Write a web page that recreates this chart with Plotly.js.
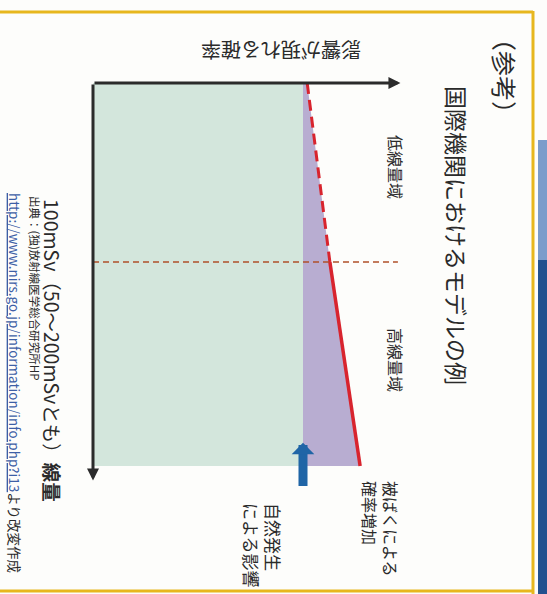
<!DOCTYPE html>
<html>
<head>
<meta charset="utf-8">
<script src="https://cdn.plot.ly/plotly-3.0.1.min.js"></script>
<style>html,body{margin:0;padding:0;background:#fdfdfb;}#chart{width:547px;height:594px;}</style>
</head>
<body>
<div id="chart"></div>
<script>
// Schematic data (dose in mSv, probability in arbitrary units)
const doseLevels = [0, 100, 214];          // dose axis points
const naturalRisk = [25, 25, 25];          // 自然発生による影響
const totalRisk = [25.5, 28.2, 31.8];      // 被ばくによる確率増加 (LNT model)
const thresholdDose = 100;                 // 100mSv boundary
const doseAxisEnd = 222;
const probAxisEnd = 36.6;
const thresholdLineEnd = 36.3;
const arrowDose = [226, 201];              // blue arrow tail/head

const labels = {
  ref: '（参考）',
  title: '国際機関におけるモデルの例',
  yTitle: '影響が現れる確率',
  low: '低線量域',
  high: '高線量域',
  increase: '被ばくによる<br>確率増加',
  natural: '自然発生<br>による影響',
  xTitle: '100mSv（50～200mSvとも）<b>線量</b>',
  source: '出典：(独)放射線医学総合研究所HP',
  url: 'http://www.nirs.go.jp/information/info.php?i13'
};

const W = 547, H = 594;
const px = x => x / W;
const py = y => 1 - y / H;
const FONT = '"Noto Sans CJK JP", "Noto Sans", sans-serif';
const TXT = '#2a2a2a';

const green = '#d3e6dc', purple = '#b8add1', red = '#d8242e';

const traces = [
  {x: doseLevels.map(() => 0), y: doseLevels, mode: 'lines', line: {width: 0}, hoverinfo: 'skip', showlegend: false},
  {x: naturalRisk, y: doseLevels, mode: 'lines', fill: 'tonextx', fillcolor: green, line: {width: 0}, hoverinfo: 'skip', showlegend: false},
  {x: totalRisk, y: doseLevels, mode: 'lines', fill: 'tonextx', fillcolor: purple, line: {width: 0}, hoverinfo: 'skip', showlegend: false},
  {x: totalRisk.slice(0, 2), y: doseLevels.slice(0, 2), mode: 'lines', line: {color: red, width: 3, dash: '11px,6px'}, hoverinfo: 'skip', showlegend: false},
  {x: totalRisk.slice(1), y: doseLevels.slice(1), mode: 'lines', line: {color: red, width: 3.5}, hoverinfo: 'skip', showlegend: false},
  {x: [0, thresholdLineEnd], y: [thresholdDose, thresholdDose], mode: 'lines', line: {color: '#b0502a', width: 1.5, dash: '6px,4px'}, hoverinfo: 'skip', showlegend: false}
];

function rot(text, x, y, size, extra) {
  return Object.assign({
    text: text, xref: 'paper', yref: 'paper', x: px(x), y: py(y),
    xanchor: 'center', yanchor: 'middle', showarrow: false, textangle: 90,
    font: {family: FONT, size: size, color: TXT}
  }, extra || {});
}

const annotations = [
  // axes arrows
  {x: probAxisEnd, y: 0, ax: 0, ay: 0, xref: 'x', yref: 'y', axref: 'x', ayref: 'y', text: '', showarrow: true,
   arrowhead: 2, arrowsize: 0.8, arrowwidth: 3, arrowcolor: '#2b2b2b'},
  {x: 0, y: doseAxisEnd, ax: 0, ay: 0, xref: 'x', yref: 'y', axref: 'x', ayref: 'y', text: '', showarrow: true,
   arrowhead: 2, arrowsize: 0.8, arrowwidth: 3, arrowcolor: '#2b2b2b'},
  // blue arrow
  {x: naturalRisk[2], y: arrowDose[1], ax: naturalRisk[2], ay: arrowDose[0], xref: 'x', yref: 'y', axref: 'x', ayref: 'y',
   text: '', showarrow: true, arrowhead: 1, arrowsize: 0.42, arrowwidth: 9, arrowcolor: '#1f65a6'},
  rot(labels.ref, 505, 76, 25),
  rot(labels.title, 457, 236, 23),
  rot(labels.yTitle, 281, 51, 20, {textangle: 180}),
  rot(labels.low, 396, 167, 16),
  rot(labels.high, 396, 360, 16),
  rot(labels.increase, 381, 529, 16, {align: 'left'}),
  rot(labels.natural, 263, 545, 17, {align: 'left'}),
  rot(labels.xTitle, 53, 350, 19.5),
  rot(labels.source, 35, 288, 11.5),
  rot('<span style="color:#3d5fa6;text-decoration:underline">' + labels.url + '</span>より改変作成', 15, 383, 13.5)
];

const shapes = [
  {type: 'line', xref: 'paper', yref: 'paper', x0: 0, x1: px(533), y0: py(12), y1: py(12), line: {color: '#e7b71e', width: 3}},
  {type: 'line', xref: 'paper', yref: 'paper', x0: px(533), x1: px(533), y0: py(11), y1: 0, line: {color: '#e7b71e', width: 3}},
  {type: 'line', xref: 'paper', yref: 'paper', x0: 0, x1: px(533), y0: py(591), y1: py(591), line: {color: '#e7b71e', width: 3}},
  {type: 'rect', xref: 'paper', yref: 'paper', x0: px(538), x1: 1, y0: py(140), y1: py(260), fillcolor: '#7b9ccb', line: {width: 0}},
  {type: 'rect', xref: 'paper', yref: 'paper', x0: px(538), x1: 1, y0: py(260), y1: 0, fillcolor: '#22518f', line: {width: 0}}
];

const layout = {
  width: W, height: H,
  margin: {l: 0, r: 0, t: 0, b: 0},
  paper_bgcolor: '#fdfdfb', plot_bgcolor: 'rgba(0,0,0,0)',
  xaxis: {range: [-93 / 8.4, (W - 93) / 8.4], visible: false, fixedrange: true},
  yaxis: {range: [(H - 83) / 1.79, -83 / 1.79], visible: false, fixedrange: true},
  showlegend: false,
  annotations: annotations,
  shapes: shapes
};

Plotly.newPlot('chart', traces, layout, {displayModeBar: false, staticPlot: true});
</script>
</body>
</html>
